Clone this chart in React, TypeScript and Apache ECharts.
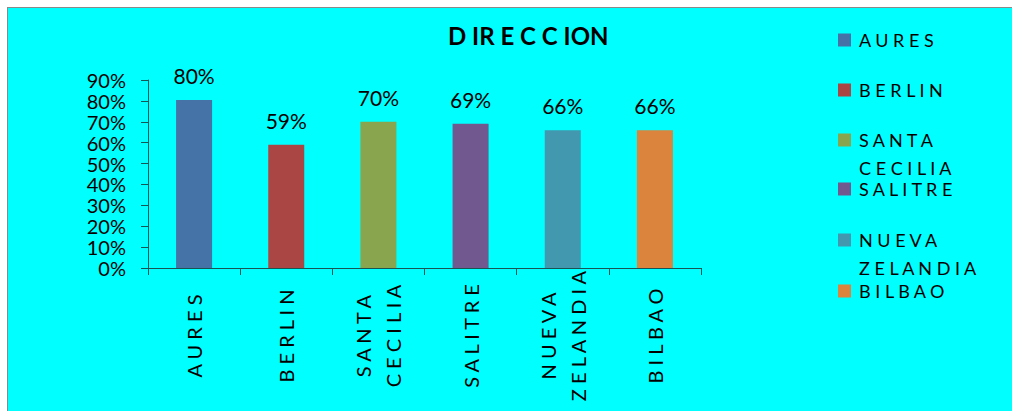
import React, { useEffect, useRef } from "react";
import * as echarts from "echarts";

const titleText = "D IR E C C ION";
const categories = [
  "A U R E S",
  "B E R L I N",
  "S A N T A\nC E C I L I A",
  "S A L I T R E",
  "N U E V A\nZ E L A N D I A",
  "B I L B A O",
];
const values = [0.804, 0.59, 0.7, 0.69, 0.66, 0.66];
const colors = ["#4572A7", "#AA4643", "#89A54E", "#71588F", "#4198AF", "#DB843D"];
const yMin = 0;
const yMax = 0.9;
const yStep = 0.1;

const FONT = "Lato";

export default function App() {
  const ref = useRef<HTMLDivElement>(null);
  useEffect(() => {
    if (!ref.current) return;
    const chart = echarts.init(ref.current, null, { renderer: "svg" });
    const iconCenters = [32, 82, 132, 181, 232, 283];
    const legends = categories.map((c, i) => {
      const two = c.includes("\n");
      return {
        data: [c],
        orient: "vertical",
        left: 830,
        top: two ? iconCenters[i] - 42 : iconCenters[i] - 14,
        padding: 0,
        itemWidth: 13,
        itemHeight: 13,
        icon: "rect",
        selectedMode: false,
        formatter: (name: string) => (two ? "\n" + name : name),
        textStyle: {
          fontSize: 18,
          fontFamily: FONT,
          color: "#000",
          lineHeight: 28,
          padding: [0, 0, 0, 3],
        },
      };
    });
    const series = categories.map((c, i) => ({
      name: c,
      type: "bar",
      stack: "total",
      barWidth: 36,
      itemStyle: { color: colors[i] },
      data: values.map((v, j) => (j === i ? v : "-")),
      label: {
        show: true,
        position: "top",
        distance: 14,
        fontSize: 21,
        fontFamily: FONT,
        color: "#000",
        formatter: (p: any) => Math.round(p.value * 100) + "%",
      },
    }));
    chart.setOption({
      animation: false,
      backgroundColor: "transparent",
      title: {
        text: titleText,
        left: 435,
        top: 10,
        textStyle: { fontSize: 24, fontWeight: "bold", fontFamily: FONT, color: "#000" },
      },
      legend: legends,
      grid: { left: 140, top: 72, width: 553, height: 188, containLabel: false },
      xAxis: {
        type: "category",
        data: categories,
        axisLine: { show: true, lineStyle: { color: "#175454", width: 1 } },
        axisTick: { show: true, length: 7, lineStyle: { color: "#175454" } },
        axisLabel: {
          interval: 0,
          rotate: 90,
          align: "center",
          verticalAlign: "middle",
          margin: 68,
          fontSize: 20,
          lineHeight: 30,
          fontFamily: FONT,
          color: "#000",
        },
      },
      yAxis: {
        type: "value",
        min: yMin,
        max: yMax,
        interval: yStep,
        axisLine: { show: true, lineStyle: { color: "#175454", width: 1 } },
        axisTick: { show: true, length: 7, lineStyle: { color: "#175454" } },
        splitLine: { show: false },
        axisLabel: {
          margin: 22,
          fontSize: 20,
          lineHeight: 18,
          fontFamily: FONT,
          color: "#000",
          formatter: (v: number) => Math.round(v * 100) + "%",
        },
      },
      series,
    });
    return () => chart.dispose();
  }, []);
  return (
    <div
      style={{
        position: "absolute",
        left: 7,
        top: 7,
        width: 1005,
        height: 404,
        boxSizing: "border-box",
        borderLeft: "1px solid #8a8a8a",
        borderTop: "1px solid #8a8a8a",
        background: "#00FFFF",
        overflow: "hidden",
      }}
    >
      <div ref={ref} style={{ width: 1004, height: 403 }} />
    </div>
  );
}
